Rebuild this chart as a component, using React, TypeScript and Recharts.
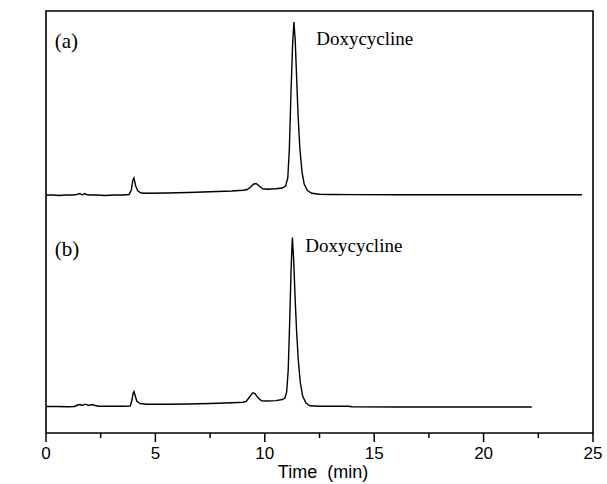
import React from "react";
import { LineChart, Line, XAxis, YAxis, ReferenceArea, ReferenceDot } from "recharts";

// Trace (a): retention time (min) and absorbance (arbitrary units)
const timeA = [0, 0.3, 0.6, 0.9, 1.2, 1.4, 1.55, 1.65, 1.75, 1.85, 2.0, 2.3, 2.7, 3.1, 3.5, 3.8, 3.9, 3.97, 4.02, 4.1, 4.2, 4.35, 4.6, 5.5, 6.5, 7.5, 8.5, 9.0, 9.2, 9.35, 9.5, 9.6, 9.75, 9.9, 10.1, 10.5, 10.8, 10.95, 11.05, 11.12, 11.2, 11.27, 11.33, 11.39, 11.45, 11.52, 11.6, 11.7, 11.8, 11.95, 12.15, 12.5, 13, 14, 16, 18, 20, 22, 24.5];
const absA = [238, 238, 237.5, 238, 238, 238.5, 239.5, 238, 239.5, 238.5, 238, 238, 237.5, 238, 238, 238.5, 243, 253, 255, 247, 242, 240, 239.7, 240, 240.5, 241.2, 242, 242.7, 243.5, 246, 249, 249.5, 247, 244.2, 243.7, 244.2, 245, 247, 255, 283, 343, 388, 411, 393, 358, 318, 285, 261, 249, 242.5, 239.7, 238.7, 238.5, 238.4, 238.2, 238.2, 238.2, 238.2, 238.2];

// Trace (b)
const timeB = [0, 0.5, 1.0, 1.3, 1.45, 1.55, 1.65, 1.8, 1.95, 2.1, 2.25, 2.4, 3.0, 3.5, 3.85, 3.93, 3.98, 4.02, 4.08, 4.15, 4.3, 4.6, 5.5, 6.5, 7.5, 8.5, 9.0, 9.15, 9.3, 9.45, 9.55, 9.7, 9.85, 10.1, 10.5, 10.8, 10.92, 11.0, 11.07, 11.14, 11.2, 11.26, 11.32, 11.38, 11.45, 11.53, 11.62, 11.73, 11.88, 12.07, 12.5, 13.8, 14, 16, 18, 20, 22.2];
const absB = [26.5, 26.5, 26.2, 26.5, 28, 28.5, 27.5, 28.8, 27.5, 28.5, 27.5, 26.7, 26.8, 26.7, 27, 33, 40, 41.5, 37, 32, 29.5, 28.7, 28.8, 29, 29.5, 30.2, 30.7, 31.5, 36, 40.2, 39.5, 35, 32.2, 32, 32.4, 33.5, 35, 41, 63, 113, 163, 195.5, 173, 138, 103, 73, 51, 37, 30, 27.2, 26.7, 26.7, 26.2, 26, 26, 26, 26];

const xTicks = [0, 2.5, 5, 7.5, 10, 12.5, 15, 17.5, 20, 22.5, 25];
const xLabels = ["0", "", "5", "", "10", "", "15", "", "20", "", "25"];

const seriesA = timeA.map((t, i) => ({ t, v: absA[i] }));
const seriesB = timeB.map((t, i) => ({ t, v: absB[i] }));

const SANS = "'Liberation Sans', Arial, sans-serif";
const SERIF = "'Liberation Serif', 'Times New Roman', serif";

const XTick = (props: any) => {
  const { x, y, payload } = props;
  const idx = xTicks.indexOf(payload.value);
  const lbl = idx >= 0 ? xLabels[idx] : "";
  const major = lbl !== "";
  return (
    <g>
      <line x1={x} y1={y} x2={x} y2={y + (major ? 9 : 5)} stroke="#000" strokeWidth={1.5} />
      {major && (
        <text x={x} y={y + 26} textAnchor="middle" fontFamily={SANS} fontSize={17} fill="#000">
          {lbl}
        </text>
      )}
    </g>
  );
};

const tag = (txt: string, size: number) => (p: any) => {
  const vb = p.viewBox || {};
  const cx = vb.x + (vb.width || 0) / 2;
  const cy = vb.y + (vb.height || 0) / 2;
  return (
    <text x={cx} y={cy} dy="0.35em" textAnchor="start" fontFamily={SERIF} fontSize={size} fill="#000">
      {txt}
    </text>
  );
};

export default function App() {
  return (
    <div style={{ position: "absolute", left: 0, top: 0, width: 607, height: 484, background: "#fff" }}>
      <LineChart width={607} height={484} margin={{ top: 11, right: 14, left: 46, bottom: 0 }}>
        <XAxis
          dataKey="t"
          type="number"
          domain={[0, 25]}
          ticks={xTicks}
          interval={0}
          allowDataOverflow
          axisLine={false}
          tickLine={false}
          tickSize={0}
          tickMargin={0}
          tick={<XTick />}
          height={51}
          label={{
            content: (p: any) => (
              <text x={323} y={p.viewBox.y + 45} textAnchor="middle" fontFamily={SANS} fontSize={18} fill="#000" xmlSpace="preserve">
                {"Time  (min)"}
              </text>
            ),
          }}
        />
        <YAxis
          type="number"
          domain={[0, 422]}
          allowDataOverflow
          width={0}
          tick={false}
          axisLine={false}
          tickLine={false}
          label={{
            content: (p: any) => (
              <text
                x={p.viewBox.x - 27}
                y={228}
                textAnchor="middle"
                dominantBaseline="central"
                transform={`rotate(-90 ${p.viewBox.x - 27} 228)`}
                fontFamily={SANS}
                fontSize={18}
                fill="#000"
              >
                Abs
              </text>
            ),
          }}
        />
        <ReferenceArea x1={0} x2={25} y1={0} y2={422} fill="none" stroke="#000" strokeWidth={1.6} ifOverflow="visible" />
        <Line data={seriesA} dataKey="v" type="linear" stroke="#000" strokeWidth={1.4} dot={false} isAnimationActive={false} />
        <Line data={seriesB} dataKey="v" type="linear" stroke="#000" strokeWidth={1.4} dot={false} isAnimationActive={false} />
        <ReferenceDot x={0.4} y={392} r={0} fill="none" stroke="none" label={{ content: tag("(a)", 21) }} />
        <ReferenceDot x={12.35} y={395} r={0} fill="none" stroke="none" label={{ content: tag("Doxycycline", 19) }} />
        <ReferenceDot x={0.4} y={184} r={0} fill="none" stroke="none" label={{ content: tag("(b)", 21) }} />
        <ReferenceDot x={11.85} y={188} r={0} fill="none" stroke="none" label={{ content: tag("Doxycycline", 19) }} />
      </LineChart>
    </div>
  );
}
